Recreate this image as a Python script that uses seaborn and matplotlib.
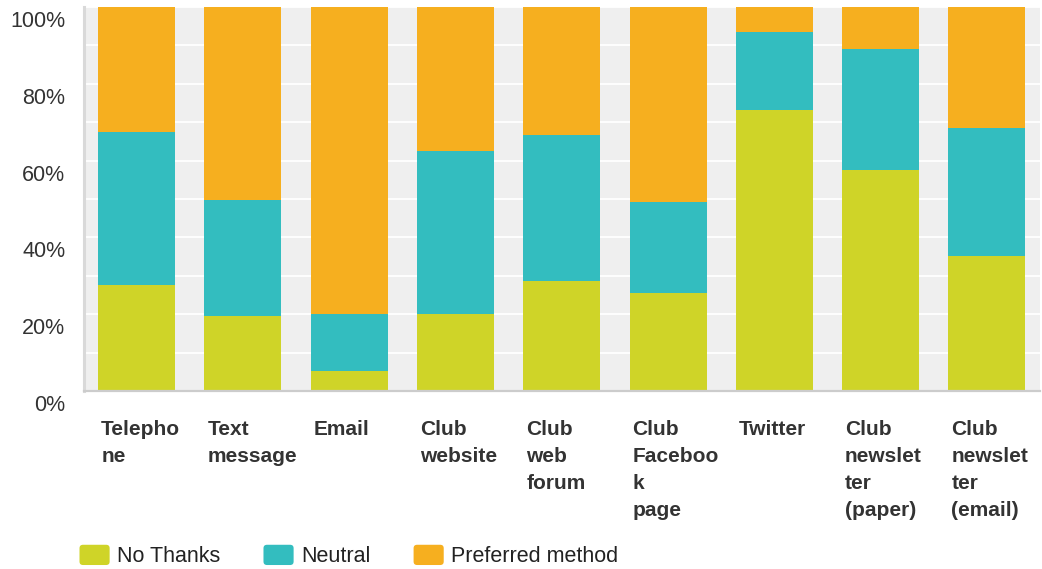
import seaborn as sns
import matplotlib.pyplot as plt
import matplotlib.transforms as mtransforms
from matplotlib.patches import Patch, FancyBboxPatch
from matplotlib.legend_handler import HandlerPatch
import pandas as pd

# Data (percent of respondents)
categories = ["Telephone", "Text message", "Email", "Club website", "Club web forum",
              "Club Facebook page", "Twitter", "Club newsletter (paper)", "Club newsletter (email)"]
tick_labels = ["Telepho\nne", "Text\nmessage", "Email", "Club\nwebsite", "Club\nweb\nforum",
               "Club\nFaceboo\nk\npage", "Twitter", "Club\nnewslet\nter\n(paper)", "Club\nnewslet\nter\n(email)"]
no_thanks = [27.6, 19.5, 5.2, 20.0, 28.6, 25.5, 73.2, 57.6, 35.2]
neutral = [39.9, 30.2, 14.9, 42.5, 38.1, 23.7, 20.3, 31.5, 33.3]
preferred = [32.5, 50.3, 79.9, 37.5, 33.3, 50.8, 6.5, 10.9, 31.5]

series = ["No Thanks", "Neutral", "Preferred method"]
colors = ["#cfd428", "#33bdbf", "#f6af1f"]

df = pd.DataFrame({"category": categories, "No Thanks": no_thanks,
                   "Neutral": neutral, "Preferred method": preferred})
# cumulative tops for stacking
df["top_nt"] = df["No Thanks"]
df["top_neu"] = df["top_nt"] + df["Neutral"]
df["top_pref"] = df["top_neu"] + df["Preferred method"]


class RoundHandler(HandlerPatch):
    # legend swatch with slightly rounded corners
    def create_artists(self, legend, orig_handle, xdescent, ydescent,
                       width, height, fontsize, trans):
        p = FancyBboxPatch((-xdescent, -ydescent), width, height,
                           boxstyle="round,pad=0,rounding_size=2.5",
                           facecolor=orig_handle.get_facecolor(),
                           edgecolor="none", transform=trans)
        return [p]


sns.set_theme(style="white")
plt.rcParams["font.family"] = ["Liberation Sans", "DejaVu Sans"]

fig = plt.figure(figsize=(10.42, 5.69), dpi=100)
ax = fig.add_axes([83.5 / 1042, 178 / 569, 956.5 / 1042, 384 / 569])

# draw tallest first so the lower segments sit on top
for col, c in zip(["top_pref", "top_neu", "top_nt"], colors[::-1]):
    sns.barplot(data=df, x="category", y=col, order=categories, color=c,
                width=0.725, saturation=1, ax=ax, linewidth=0)

ax.set_facecolor("#efefef")
ax.set_ylim(0, 100)
ax.set_xlim(-0.5, 8.5)
ax.set_yticks(range(0, 101, 20))
ax.set_yticks(range(0, 101, 10), minor=True)
ax.set_yticklabels([f"{v}%" for v in range(0, 101, 20)])
ax.grid(axis="y", which="both", color="white", linewidth=1.3)
ax.set_axisbelow(True)
ax.set(xlabel="", ylabel="")

for s in ["top", "right"]:
    ax.spines[s].set_visible(False)
ax.spines["left"].set_color("#d9d9d9")
ax.spines["left"].set_linewidth(2.2)
ax.spines["bottom"].set_color("#cccccc")
ax.spines["bottom"].set_linewidth(1.6)

ax.tick_params(axis="both", which="both", length=0)
ax.tick_params(axis="y", labelsize=15.5, labelcolor="#333333", pad=13)
ax.set_xticks(range(len(categories)))
ax.set_xticklabels(tick_labels, ha="left", fontweight="bold", fontsize=15,
                   color="#333333", linespacing=1.52)
ax.tick_params(axis="x", pad=21)

shift_x = mtransforms.ScaledTranslation(-0.355, 0, fig.dpi_scale_trans)
for lbl in ax.get_xticklabels():
    lbl.set_transform(lbl.get_transform() + shift_x)
shift_y = mtransforms.ScaledTranslation(0, -0.12, fig.dpi_scale_trans)
for lbl in ax.get_yticklabels():
    lbl.set_transform(lbl.get_transform() + shift_y)

handles = [Patch(facecolor=c, edgecolor="none", label=s) for s, c in zip(series, colors)]
fig.legend(handles=handles, handler_map={Patch: RoundHandler()},
           loc="center left", bbox_to_anchor=(79.5 / 1042, 13 / 569),
           ncol=3, frameon=False, fontsize=15.5, handlelength=1.4, handleheight=1.07,
           handletextpad=0.35, columnspacing=2.0, borderpad=0, borderaxespad=0,
           labelcolor="#222222")

fig.savefig("out.png", dpi=100)
